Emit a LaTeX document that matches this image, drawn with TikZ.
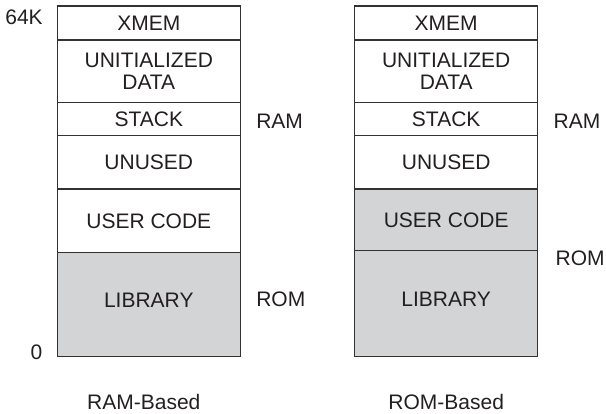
\documentclass[tikz,border=0pt]{standalone}
\usepackage{fontspec}
\setmainfont{Liberation Sans}
\usetikzlibrary{positioning}
\definecolor{memline}{RGB}{50,50,50}
\definecolor{memtext}{RGB}{35,31,32}
\definecolor{memgray}{RGB}{211,212,214}
\tikzset{
  region/.style={
    rectangle, draw=memline, line width=1.2pt, fill=white,
    minimum width=183pt, inner sep=0pt, outer sep=0pt,
    align=center, text=memtext, font=\fontsize{21}{22.5}\selectfont
  },
  romregion/.style={region, fill=memgray},
  memlabel/.style={
    rectangle, inner sep=0pt, outer sep=0pt, text=memtext,
    font=\fontsize{21}{22.5}\selectfont
  }
}

\begin{document}
\begin{tikzpicture}[x=1pt, y=-1pt]
\useasboundingbox (0,0) rectangle (606,414);

% RAM-based map
\node[region, anchor=north west, minimum height=34pt] (xmemL) at (57.3,6) {XMEM};
\node[region, below=0pt of xmemL, minimum height=62.3pt] (dataL) {UNITIALIZED\\DATA};
\node[region, below=0pt of dataL, minimum height=33.4pt] (stackL) {STACK};
\node[region, below=0pt of stackL, minimum height=53.3pt] (unusedL) {UNUSED};
\node[region, below=0pt of unusedL, minimum height=63.7pt] (userL) {USER CODE};
\node[romregion, below=0pt of userL, minimum height=104pt, text depth=8pt] (libL) {LIBRARY};

\node[memlabel, left=14.6pt of xmemL.north west, yshift=-11.5pt] (topL) {64K};
\node[memlabel, left=15pt of libL.south west, yshift=4.7pt] (botL) {0};
\node[memlabel, right=16pt of stackL, yshift=-2.5pt] (ramL) {RAM};
\node[memlabel, right=16pt of libL, yshift=5pt] (romL) {ROM};
\node[memlabel, below=38pt of libL, xshift=-5pt] (capL) {RAM-Based};

% ROM-based map
\node[region, anchor=north west, minimum height=34pt] (xmemR) at (354.7,6) {XMEM};
\node[region, below=0pt of xmemR, minimum height=62.3pt] (dataR) {UNITIALIZED\\DATA};
\node[region, below=0pt of dataR, minimum height=33.4pt] (stackR) {STACK};
\node[region, below=0pt of stackR, minimum height=53.3pt] (unusedR) {UNUSED};
\node[romregion, below=0pt of unusedR, minimum height=61.7pt] (userR) {USER CODE};
\node[romregion, below=0pt of userR, minimum height=106pt, text depth=8pt] (libR) {LIBRARY};

\node[memlabel, right=16pt of stackR, yshift=-2.5pt] (ramR) {RAM};
\node[memlabel, right=18pt of libR.north east, yshift=-7.3pt] (romR) {ROM};
\node[memlabel, below=38pt of libR] (capR) {ROM-Based};

\end{tikzpicture}
\end{document}
